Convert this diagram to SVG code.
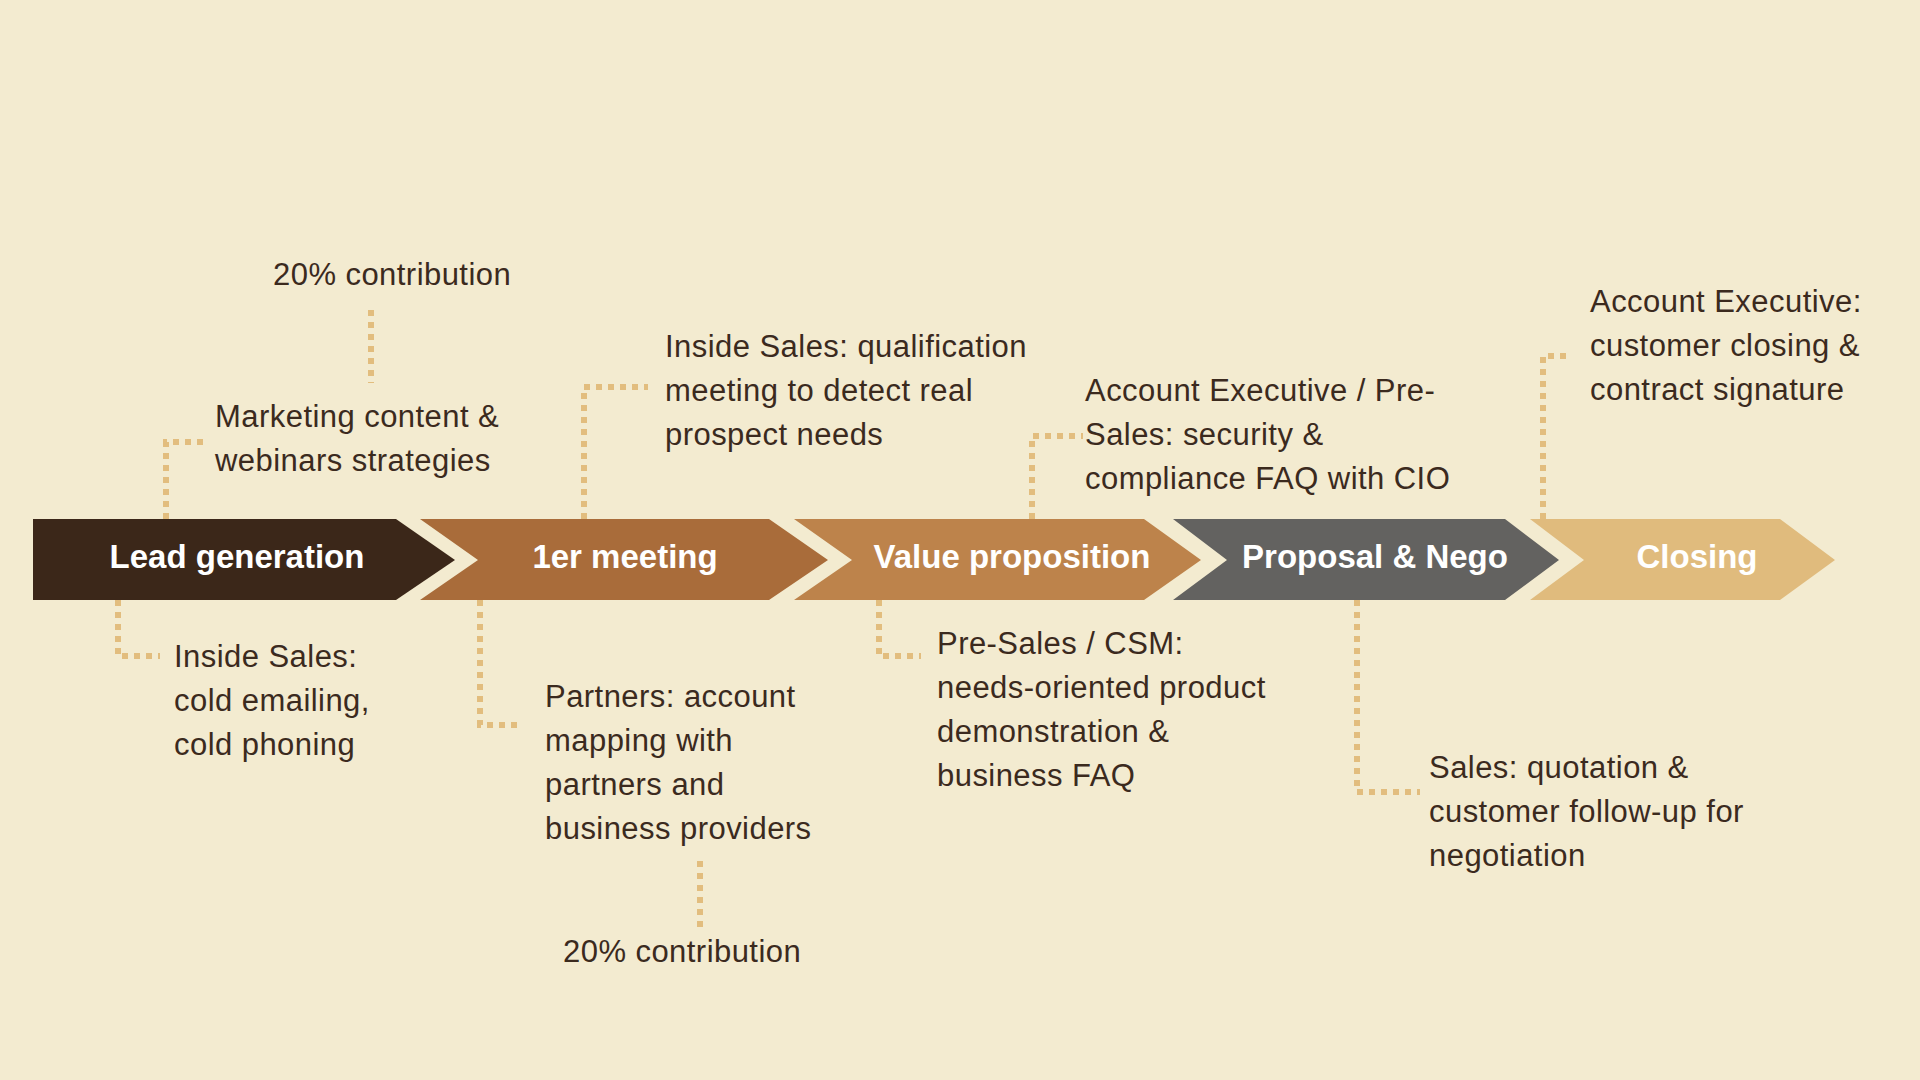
<svg xmlns="http://www.w3.org/2000/svg" width="1920" height="1080" viewBox="0 0 1920 1080">
  <style>
    .note { font-family: "Liberation Sans", Arial, sans-serif; font-size: 31px; letter-spacing: 0.45px; fill: #3b2a1e; }
    .stage { font-family: "Liberation Sans", Arial, sans-serif; font-size: 33px; font-weight: bold; fill: #ffffff; text-anchor: middle; }
    .dot { fill: none; stroke: #e2bd7e; stroke-width: 6; stroke-dasharray: 6 6; }
  </style>
  <rect x="0" y="0" width="1920" height="1080" fill="#f3ebd0"/>

  <g id="connectors">
    <path class="dot" d="M166,519 V442 H206"/>
    <path class="dot" d="M371,310 V383"/>
    <path class="dot" d="M584,519 V387 H648"/>
    <path class="dot" d="M1032,519 V436 H1083"/>
    <path class="dot" d="M1543,519 V356 H1570"/>
    <path class="dot" d="M118,600 V656 H160"/>
    <path class="dot" d="M480,600 V725 H523"/>
    <path class="dot" d="M700,861 V933"/>
    <path class="dot" d="M879,600 V656 H921"/>
    <path class="dot" d="M1357,600 V792 H1420"/>
  </g>

  <g id="lead-generation">
    <path d="M33,519 L396,519 L455,560 L396,600 L33,600 Z" fill="#3b2719"/>
    <text class="stage" x="237" y="568">Lead generation</text>
  </g>
  <g id="first-meeting">
    <path d="M420,519 L769,519 L828,560 L769,600 L420,600 L478,560 Z" fill="#a96c3a"/>
    <text class="stage" x="625" y="568">1er meeting</text>
  </g>
  <g id="value-proposition">
    <path d="M794,519 L1144,519 L1201,560 L1144,600 L794,600 L852,560 Z" fill="#bd834b"/>
    <text class="stage" x="1012" y="568">Value proposition</text>
  </g>
  <g id="proposal-nego">
    <path d="M1173,519 L1505,519 L1559,560 L1505,600 L1173,600 L1227,560 Z" fill="#636260"/>
    <text class="stage" x="1375" y="568">Proposal &amp; Nego</text>
  </g>
  <g id="closing">
    <path d="M1530,519 L1780,519 L1835,560 L1780,600 L1530,600 L1584,560 Z" fill="#e0bb7d"/>
    <text class="stage" x="1697" y="568">Closing</text>
  </g>

  <g id="note-contribution-top">
    <text class="note" x="273" y="285">20% contribution</text>
  </g>
  <g id="note-marketing">
    <text class="note" x="215" y="427">Marketing content &amp;</text>
    <text class="note" x="215" y="471">webinars strategies</text>
  </g>
  <g id="note-qualification">
    <text class="note" x="665" y="357">Inside Sales: qualification</text>
    <text class="note" x="665" y="401">meeting to detect real</text>
    <text class="note" x="665" y="445">prospect needs</text>
  </g>
  <g id="note-security">
    <text class="note" x="1085" y="401">Account Executive / Pre-</text>
    <text class="note" x="1085" y="445">Sales: security &amp;</text>
    <text class="note" x="1085" y="489">compliance FAQ with CIO</text>
  </g>
  <g id="note-closing">
    <text class="note" x="1590" y="312">Account Executive:</text>
    <text class="note" x="1590" y="356">customer closing &amp;</text>
    <text class="note" x="1590" y="400">contract signature</text>
  </g>
  <g id="note-cold">
    <text class="note" x="174" y="667">Inside Sales:</text>
    <text class="note" x="174" y="711">cold emailing,</text>
    <text class="note" x="174" y="755">cold phoning</text>
  </g>
  <g id="note-partners">
    <text class="note" x="545" y="707">Partners: account</text>
    <text class="note" x="545" y="751">mapping with</text>
    <text class="note" x="545" y="795">partners and</text>
    <text class="note" x="545" y="839">business providers</text>
  </g>
  <g id="note-contribution-bottom">
    <text class="note" x="563" y="962">20% contribution</text>
  </g>
  <g id="note-demo">
    <text class="note" x="937" y="654">Pre-Sales / CSM:</text>
    <text class="note" x="937" y="698">needs-oriented product</text>
    <text class="note" x="937" y="742">demonstration &amp;</text>
    <text class="note" x="937" y="786">business FAQ</text>
  </g>
  <g id="note-quotation">
    <text class="note" x="1429" y="778">Sales: quotation &amp;</text>
    <text class="note" x="1429" y="822">customer follow-up for</text>
    <text class="note" x="1429" y="866">negotiation</text>
  </g>
</svg>
